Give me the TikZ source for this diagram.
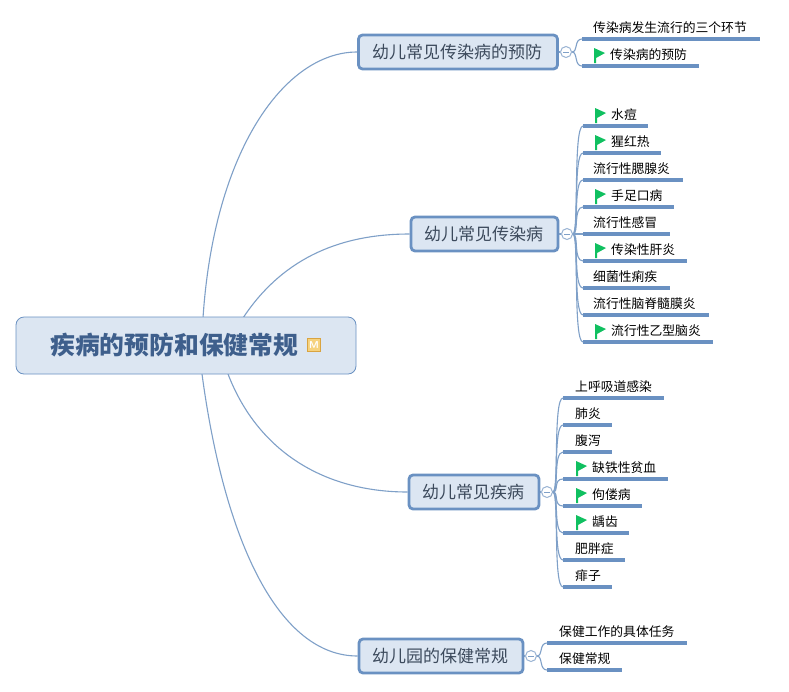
\documentclass[tikz,border=0pt]{standalone}
\usepackage{fontspec}
\setmainfont{Liberation Sans}
\newfontfamily\cjk{Noto Sans CJK SC}
\definecolor{linecol}{HTML}{7FA0C8}
\definecolor{barcol}{HTML}{6A91C2}
\definecolor{boxfill}{HTML}{DCE6F2}
\definecolor{rootink}{HTML}{3E5F8C}
\definecolor{topicink}{HTML}{3C4A5C}
\definecolor{flagcol}{HTML}{10C060}
\definecolor{iconfill}{HTML}{F6D27E}
\definecolor{iconline}{HTML}{D9A441}
\tikzset{
  link/.style={draw=linecol,line width=1.1pt},
  rootbox/.style={draw=barcol,line width=0.8pt,fill=boxfill,rounded corners=8pt,minimum width=340pt,minimum height=57pt,inner sep=0pt},
  topicbox/.style={draw=barcol,line width=2.8pt,fill=boxfill,rounded corners=4pt,minimum height=34pt,inner sep=0pt,text=topicink,font=\cjk\fontsize{17}{18}\selectfont,execute at end node=\hspace{2pt}},
  foldmark/.style={circle,draw=linecol!80,fill=white,line width=1pt,minimum size=11pt,inner sep=0pt},
  subtopic/.style={anchor=south west,inner sep=0pt,minimum height=22pt,align=left,font=\cjk\fontsize{12.8}{13}\selectfont,text=black},
  underbar/.style={draw=barcol,line width=3.2pt},
  micon/.style={draw=iconline,fill=iconfill,line width=1pt,minimum size=13pt,inner sep=0pt,text=white,font=\sffamily\bfseries\fontsize{10}{10}\selectfont},
  x=1pt,y=-1pt
}
% #1 name, #2 left, #3 right, #4 y, #5 text
\newcommand{\plainsub}[5]{%
  \node[subtopic,text width={(#3)-(#2)}] (#1) at (#2,#4) {\hspace*{\tindent pt}#5};
  \draw[underbar] (#1.south west) -- (#1.south east);}
\newcommand{\flagsub}[5]{%
  \node[subtopic,text width={(#3)-(#2)}] (#1) at (#2,#4) {\hspace*{\findent pt}#5};
  \draw[underbar] (#1.south west) -- (#1.south east);
  \fill[flagcol] ([shift={(\flagx,-3)}]#1.south west) -- ([shift={(\flagx,-18)}]#1.south west) -- ([shift={(\flagx+11,-13)}]#1.south west) -- ([shift={(\flagx+2,-8)}]#1.south west) -- ([shift={(\flagx+2,-3)}]#1.south west) -- cycle;}
\newcommand{\foldsign}[1]{\draw[linecol,line width=0.9pt] ([xshift=-3pt]#1.center) -- ([xshift=3pt]#1.center);}
\newcommand{\branch}[3]{% from, to, bend offset
  \draw[link] (#1.east) .. controls +(6,0) and ([xshift=-#3pt]#2.south west) .. (#2.south west);}
\begin{document}
\begin{tikzpicture}
\useasboundingbox (0,0) rectangle (789,691);
\fill[white] (0,0) rectangle (789,691);

% main curves
\coordinate (r1) at (203,318);
\coordinate (r2) at (243,318);
\coordinate (r3) at (228,374);
\coordinate (r4) at (202,374);
\node[topicbox,minimum width=199pt] (t1) at (458,52) {幼儿常见传染病的预防};
\node[topicbox,minimum width=147pt] (t2) at (484.5,234) {幼儿常见传染病};
\node[topicbox,minimum width=130pt] (t3) at (474,492) {幼儿常见疾病};
\node[topicbox,minimum width=164pt] (t4) at (441,656) {幼儿园的保健常规};
\draw[link] (r1) .. controls (214,150) and (285,52) .. (t1.west);
\draw[link] (r2) .. controls (280,262) and (335,234) .. (t2.west);
\draw[link] (r3) .. controls (258,452) and (325,492) .. (t3.west);
\draw[link] (r4) .. controls (225,545) and (280,656) .. (t4.west);

\node[rootbox] (root) at (186,345.5) {};
\node[text=rootink,anchor=west,inner sep=0pt,font=\cjk\bfseries\fontsize{24.8}{25}\selectfont] (roottext) at (50,345) {疾病的预防和保健常规};
\node[micon] (mark) at (314,345) {M};

\node[foldmark] (c1) at (566,52) {};
\node[foldmark] (c2) at (567,234) {};
\node[foldmark] (c3) at (547,492) {};
\node[foldmark] (c4) at (531,656) {};
\draw[link] (t1.east) -- (c1.west);
\draw[link] (t2.east) -- (c2.west);
\draw[link] (t3.east) -- (c3.west);
\draw[link] (t4.east) -- (c4.west);

% first group
\def\tindent{11}\def\findent{28}\def\flagx{12}
\plainsub{a1}{582}{760}{39}{传染病发生流行的三个环节}
\flagsub{a2}{582}{699}{66}{传染病的预防}
\branch{c1}{a1}{8}
\branch{c1}{a2}{8}

% second group
\def\tindent{10}\def\findent{28}\def\flagx{12}
\flagsub{b1}{583}{648}{126}{水痘}
\flagsub{b2}{583}{661}{153}{猩红热}
\plainsub{b3}{583}{683}{180}{流行性腮腺炎}
\flagsub{b4}{583}{674}{207}{手足口病}
\plainsub{b5}{583}{670}{234}{流行性感冒}
\flagsub{b6}{583}{687}{261}{传染性肝炎}
\plainsub{b7}{583}{670}{288}{细菌性痢疾}
\plainsub{b8}{583}{709}{315}{流行性脑脊髓膜炎}
\flagsub{b9}{583}{713}{342}{流行性乙型脑炎}
\foreach \n/\o in {b1/10,b2/10,b3/10,b4/10,b5/4,b6/10,b7/10,b8/10,b9/10}{\branch{c2}{\n}{\o}}

% third group
\def\tindent{12}\def\findent{29}\def\flagx{13}
\plainsub{d1}{563}{664}{398}{上呼吸道感染}
\plainsub{d2}{563}{612}{425}{肺炎}
\plainsub{d3}{563}{612}{452}{腹泻}
\flagsub{d4}{563}{668}{479}{缺铁性贫血}
\flagsub{d5}{563}{642}{506}{佝偻病}
\flagsub{d6}{563}{629}{533}{龋齿}
\plainsub{d7}{563}{625}{560}{肥胖症}
\plainsub{d8}{563}{612}{587}{痱子}
\foreach \n/\o in {d1/10,d2/10,d3/10,d4/10,d5/10,d6/10,d7/10,d8/10}{\branch{c3}{\n}{\o}}

% fourth group
\def\tindent{12}
\plainsub{e1}{547}{687}{643}{保健工作的具体任务}
\plainsub{e2}{547}{622}{670}{保健常规}
\branch{c4}{e1}{8}
\branch{c4}{e2}{8}

\foldsign{c1}\foldsign{c2}\foldsign{c3}\foldsign{c4}
\end{tikzpicture}
\end{document}
